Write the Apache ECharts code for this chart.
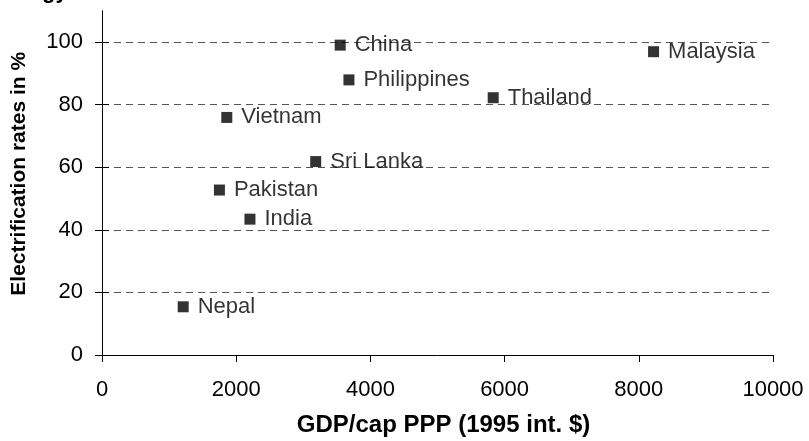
<!DOCTYPE html>
<html><head><meta charset="utf-8">
<script src="https://cdn.jsdelivr.net/npm/echarts@6/dist/echarts.min.js"></script>
<style>html,body{margin:0;padding:0;background:#fff}#c{width:809px;height:441px}</style>
</head><body><div id="c"></div>
<script>
const countries = ['China','Philippines','Vietnam','Sri Lanka','Malaysia','Thailand','Pakistan','India','Nepal'];
const gdpPerCap = [3550, 3680, 1860, 3185, 8220, 5830, 1750, 2205, 1210];
const electrification = [99.0, 87.9, 75.9, 61.8, 96.9, 82.2, 52.7, 43.4, 15.4];
const xTicks = [0, 2000, 4000, 6000, 8000, 10000];
const yTicks = [0, 20, 40, 60, 80, 100];

const FONT = 'Arial, "Liberation Sans", sans-serif';
const chart = echarts.init(document.getElementById('c'), null, {renderer:'canvas'});
const data = countries.map((n,i)=>({name:n, value:[gdpPerCap[i], electrification[i]]}));
chart.setOption({
  animation:false,
  backgroundColor:'#fff',
  grid:{left:102, right:36, top:10.7, bottom:86, containLabel:false, outerBoundsMode:'none'},
  graphic:[{type:'text', left:42, top:-19, style:{text:'gy', font:'bold 22px '+FONT, fill:'#000'}}],
  xAxis:{
    type:'value', min:0, max:10000, interval:2000,
    name:'GDP/cap PPP (1995 int. $)', nameLocation:'middle', nameGap:58,
    nameTextStyle:{fontFamily:FONT, fontWeight:'bold', fontSize:24, color:'#000', padding:[0,0,0,12]},
    axisLine:{lineStyle:{color:'#000', width:1}},
    axisTick:{show:true, length:7, lineStyle:{color:'#000'}, customValues:xTicks},
    axisLabel:{fontFamily:FONT, fontSize:22, color:'#000', margin:24, customValues:xTicks, formatter:v=>String(v)},
    splitLine:{show:false}
  },
  yAxis:[{
    type:'value', min:0, max:110, interval:20,
    name:'Electrification rates in %', nameLocation:'middle', nameGap:72, nameRotate:90,
    nameTextStyle:{fontFamily:FONT, fontWeight:'bold', fontSize:21, color:'#000', padding:[0,0,0,18]},
    axisLine:{show:true, lineStyle:{color:'#000', width:1}},
    axisTick:{show:true, length:7, lineStyle:{color:'#000'}, customValues:yTicks},
    axisLabel:{fontFamily:FONT, fontSize:22, color:'#000', margin:19, customValues:yTicks, formatter:v=>String(v)},
    splitLine:{show:true, lineStyle:{color:'#555', type:[7,5], width:1}}
  },{
    type:'value', min:0, max:110, interval:20, position:'left',
    axisLine:{show:false},
    axisTick:{show:true, inside:true, length:7, lineStyle:{color:'#000'}, customValues:yTicks},
    axisLabel:{show:false},
    splitLine:{show:false}
  }],
  series:[{
    type:'scatter', symbol:'rect', symbolSize:11,
    itemStyle:{color:'#000'},
    data:data,
    label:{show:true, position:'right', distance:9, formatter:p=>p.name,
      fontFamily:FONT, fontSize:22, color:'#000'}
  }]
});
</script></body></html>
